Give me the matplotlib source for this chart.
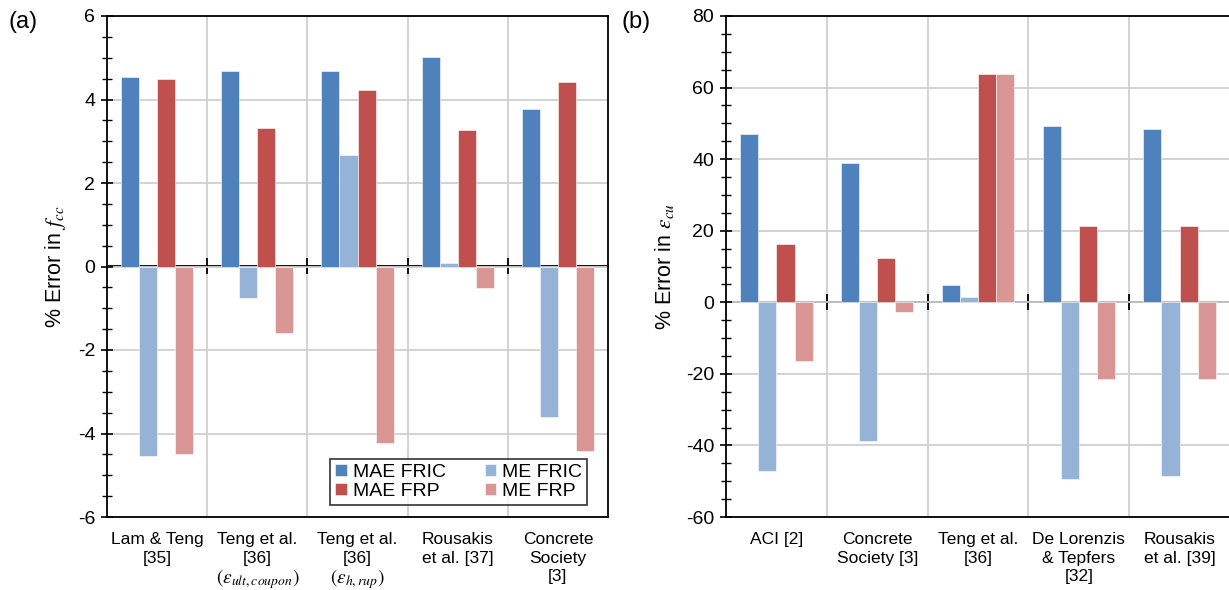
import numpy as np
import matplotlib
matplotlib.use("Agg")
import matplotlib.pyplot as plt

plt.rcParams['font.family'] = ['Liberation Sans', 'DejaVu Sans']
plt.rcParams['mathtext.fontset'] = 'stix'
plt.rcParams['axes.unicode_minus'] = False

# ---- data, panel (a): % error in f_cc
labels_a = ['Lam & Teng\n[35]', 'Teng et al.\n[36]', 'Teng et al.\n[36]',
            'Rousakis\net al. [37]', 'Concrete\nSociety\n[3]']
sub_a = ['', '$(\\varepsilon_{ult,coupon})$', '$(\\varepsilon_{h,rup})$', '', '']
mae_fric_a = [4.53, 4.69, 4.69, 5.01, 3.78]
me_fric_a = [-4.53, -0.75, 2.66, 0.08, -3.60]
mae_frp_a = [4.49, 3.31, 4.22, 3.27, 4.43]
me_frp_a = [-4.49, -1.60, -4.22, -0.52, -4.43]

# ---- data, panel (b): % error in eps_cu
labels_b = ['ACI [2]', 'Concrete\nSociety [3]', 'Teng et al.\n[36]',
            'De Lorenzis\n& Tepfers\n[32]', 'Rousakis\net al. [39]']
mae_fric_b = [47.1, 38.9, 4.7, 49.3, 48.5]
me_fric_b = [-47.1, -38.9, 1.5, -49.3, -48.5]
mae_frp_b = [16.3, 12.3, 63.8, 21.3, 21.4]
me_frp_b = [-16.3, -2.8, 63.8, -21.3, -21.4]

series_names = ['MAE FRIC', 'ME FRIC', 'MAE FRP', 'ME FRP']
colors = ['#4F81BD', '#95B3D7', '#C0504D', '#D99694']

fig = plt.figure(figsize=(12.29, 5.90), dpi=100)
ax1 = fig.add_axes([107/1229, 73/590, 501/1229, 501/590])
ax2 = fig.add_axes([726/1229, 73/590, 504/1229, 501/590])


def draw(ax, labels, series, ylim, major, minor, ylabel):
    n = len(labels)
    x = np.arange(n) + 0.5
    w = 0.18
    bars = []
    for i, vals in enumerate(series):
        b = ax.bar(x + (i - 1.5) * w, vals, w, color=colors[i],
                   edgecolor='white', linewidth=0.4, zorder=3,
                   label=series_names[i])
        bars.append(b)
    ax.set_xlim(0, n)
    ax.set_ylim(*ylim)
    ax.set_yticks(np.arange(ylim[0], ylim[1] + 0.01, major))
    ax.set_yticks(np.arange(ylim[0], ylim[1] + 0.01, minor), minor=True)
    ax.yaxis.grid(True, which='major', color='#D0D0D0', linewidth=1.3, zorder=0)
    for k in range(1, n):
        ax.axvline(k, color='#D0D0D0', linewidth=1.3, zorder=0)
    ax.tick_params(axis='y', which='major', direction='inout', length=9,
                   width=1.2, labelsize=14, pad=4)
    ax.tick_params(axis='y', which='minor', direction='inout', length=7,
                   width=1.0)
    ax.set_xticks(x)
    ax.set_xticklabels(labels, fontsize=12.5, linespacing=1.3)
    ax.tick_params(axis='x', length=0, pad=11)
    for s in ax.spines.values():
        s.set_linewidth(1.3)
        s.set_color('black')
    ax.set_ylabel(ylabel, fontsize=15.5, labelpad=7)
    # zero axis line with category separator ticks
    zero = (0 - ylim[0]) / (ylim[1] - ylim[0])
    sec = ax.secondary_xaxis(zero)
    sec.set_xticks(np.arange(1, n))
    sec.set_xticklabels([])
    sec.tick_params(direction='inout', length=12, width=1.3)
    sec.spines['bottom'].set_linewidth(1.3)
    sec.spines['top'].set_linewidth(1.3)
    return bars


bars_a = draw(ax1, labels_a, [mae_fric_a, me_fric_a, mae_frp_a, me_frp_a],
              (-6, 6), 2, 0.5, '% Error in $f_{cc}$')
draw(ax2, labels_b, [mae_fric_b, me_fric_b, mae_frp_b, me_frp_b],
     (-60, 80), 20, 5, '% Error in $\\varepsilon_{cu}$')

# third-line subscripts in panel (a)
for i, s in enumerate(sub_a):
    if s:
        ax1.annotate(s, xy=(i + 0.5, 0), xycoords=ax1.get_xaxis_transform(),
                     xytext=(0, -36), textcoords='offset points',
                     ha='center', va='top', fontsize=14)

order = [0, 2, 1, 3]
leg = ax1.legend([bars_a[k] for k in order], [series_names[k] for k in order],
                 ncol=2, loc='lower right', bbox_to_anchor=(0.958, 0.024),
                 fontsize=14, frameon=True, fancybox=False, edgecolor='black',
                 handlelength=0.6, handleheight=0.6, handletextpad=0.3,
                 columnspacing=2.0, labelspacing=0.1, borderpad=0.25,
                 borderaxespad=0)
leg.get_frame().set_linewidth(1.2)

fig.text(8/1229, 1 - 22/590, '(a)', fontsize=17, va='center', ha='left')
fig.text(621/1229, 1 - 22/590, '(b)', fontsize=17, va='center', ha='left')

fig.savefig('out.png', dpi=100)
